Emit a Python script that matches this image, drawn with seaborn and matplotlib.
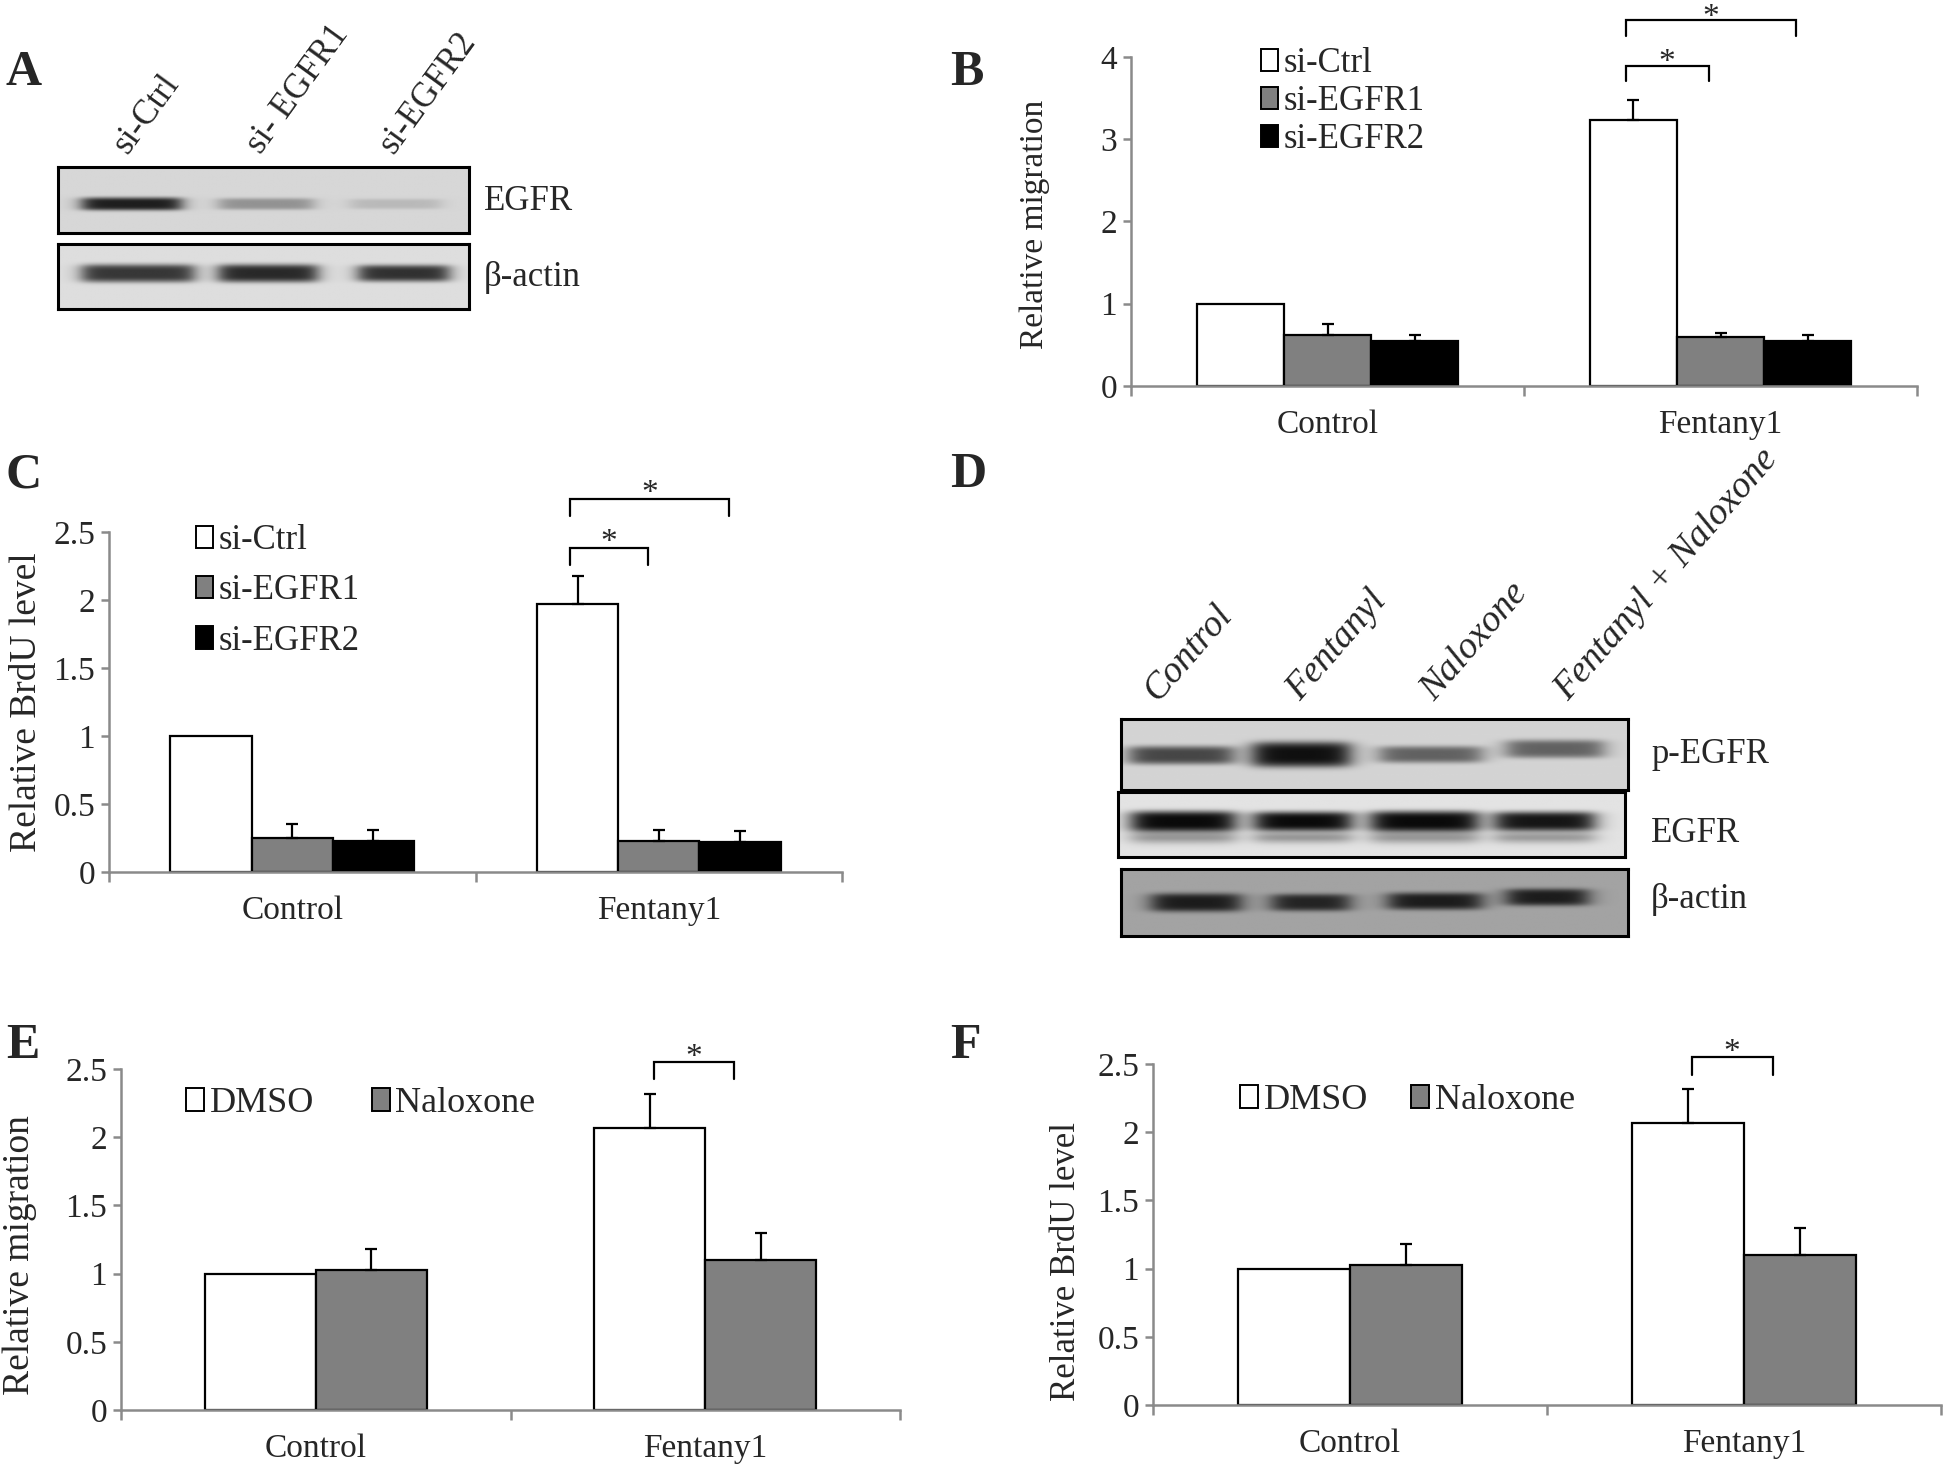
import numpy as np
import pandas as pd
import matplotlib
matplotlib.use("Agg")
import matplotlib.pyplot as plt
import seaborn as sns
from matplotlib.patches import Patch
from matplotlib.container import BarContainer

W, H = 1944, 1471
GRAY = "#8a8a8a"

# bar chart data
groups = ["Control", "Fentany1"]
sirna = ["si-Ctrl", "si-EGFR1", "si-EGFR2"]
sirna_colors = ["white", "#808080", "black"]
migration_si = [[1.00, 0.62, 0.55], [3.23, 0.60, 0.55]]
migration_si_err = [[0.00, 0.13, 0.07], [0.25, 0.05, 0.07]]
brdu_si = [[1.00, 0.25, 0.23], [1.97, 0.23, 0.22]]
brdu_si_err = [[0.00, 0.10, 0.08], [0.21, 0.08, 0.08]]

drugs = ["DMSO", "Naloxone"]
drug_colors = ["white", "#808080"]
migration_nal = [[1.00, 1.03], [2.07, 1.10]]
migration_nal_err = [[0.00, 0.15], [0.25, 0.20]]
brdu_nal = [[1.00, 1.03], [2.07, 1.10]]
brdu_nal_err = [[0.00, 0.15], [0.25, 0.20]]

# western blot band strength, 0 = none, 1 = saturated
lanes_a = ["si-Ctrl", "si- EGFR1", "si-EGFR2"]
egfr_a = [0.95, 0.35, 0.15]
actin_a = [0.85, 0.92, 0.88]
lanes_d = ["Control", "Fentanyl", "Naloxone", "Fentanyl + Naloxone"]
pegfr_d = [0.72, 1.00, 0.58, 0.58]
egfr_d = [1.00, 1.00, 1.00, 0.95]
actin_d = [0.95, 0.90, 0.95, 0.95]

sns.set_theme(style="ticks")
plt.rcParams["font.family"] = ["Liberation Serif", "DejaVu Serif"]

fig = plt.figure(figsize=(W / 100, H / 100), dpi=100)


def add_axes(x0, y0, x1, y1):
    return fig.add_axes([x0 / W, 1 - y1 / H, (x1 - x0) / W, (y1 - y0) / H])


def bar_panel(box, means, errs, series, colors, ymax, yticks, width, ylabel, ylab_size, ylab_pos):
    ax = add_axes(*box)
    rows = []
    for i, g in enumerate(groups):
        for j, s in enumerate(series):
            rows.append({"group": g, "series": s, "value": means[i][j]})
    df = pd.DataFrame(rows)
    sns.barplot(data=df, x="group", y="value", hue="series", order=groups,
                hue_order=series, palette=colors, saturation=1, width=width,
                edgecolor="black", linewidth=1.6, errorbar=None, legend=False, ax=ax)

    # one-sided error bars
    bar_conts = [c for c in ax.containers if isinstance(c, BarContainer)]
    centers = []
    for j, cont in enumerate(bar_conts):
        col = []
        for i, bar in enumerate(cont.patches):
            x = bar.get_x() + bar.get_width() / 2
            col.append(x)
            e = errs[i][j]
            if e > 0:
                ax.errorbar(x, bar.get_height(), yerr=[[0], [e]], fmt="none",
                            ecolor="black", elinewidth=1.6, capsize=4.5,
                            capthick=1.6, clip_on=False)
        centers.append(col)

    ax.set_xlim(-0.5, 1.5)
    ax.set_ylim(0, ymax)
    ax.set_yticks(yticks)
    ax.set_yticklabels([f"{t:g}" for t in yticks])
    ax.set_xticks([-0.5, 0.5, 1.5], minor=True)
    ax.tick_params(axis="x", which="major", length=0, pad=17, labelsize=24)
    ax.tick_params(axis="x", which="minor", length=7, width=1.8, color=GRAY, direction="out")
    ax.tick_params(axis="y", length=6, width=1.8, color=GRAY, pad=4, labelsize=24, direction="out")
    for side in ["top", "right"]:
        ax.spines[side].set_visible(False)
    for side in ["left", "bottom"]:
        ax.spines[side].set_color(GRAY)
        ax.spines[side].set_linewidth(1.8)
    ax.set_xlabel("")
    ax.set_ylabel(ylabel, fontsize=ylab_size)
    ax.yaxis.set_label_coords(*ylab_pos)
    return ax, centers


def bracket(ax, x0, x1, y, leg0, leg1, star_y):
    ax.plot([x0, x0, x1, x1], [leg0, y, y, leg1], color="black", lw=1.6,
            clip_on=False, solid_joinstyle="miter")
    ax.text((x0 + x1) / 2, star_y, "*", ha="center", va="center", fontsize=24)


def legend(ax, series, colors, x, y, size, ncol=1, spacing=0.15, colspace=1.0):
    handles = [Patch(facecolor=c, edgecolor="black", linewidth=1.4) for c in colors]
    ax.legend(handles, series, loc="upper left", bbox_to_anchor=(x / W, 1 - y / H),
              bbox_transform=fig.transFigure, frameon=False, fontsize=size,
              handlelength=0.5, handleheight=0.6, handletextpad=0.15,
              labelspacing=spacing, borderpad=0, borderaxespad=0, ncol=ncol,
              columnspacing=colspace)


def blot(box, strengths, spans, yc, hh, bg, dark, lower=None):
    ax = add_axes(*box)
    ny, nx = 80, 500
    yy, xx = np.mgrid[0:1:ny * 1j, 0:1:nx * 1j]
    img = np.full((ny, nx), bg)
    for k, (s, (a, b)) in enumerate(zip(strengths, spans)):
        px = 1 / (1 + np.exp(-(xx - a) / 0.012)) / (1 + np.exp((xx - b) / 0.012))
        py = np.exp(-((yy - yc[k]) / hh[k]) ** 4)
        img -= s * (bg - dark) * px * py
        if lower is not None:
            py2 = np.exp(-((yy - yc[k] - lower[0]) / (hh[k] * 0.6)) ** 2)
            img -= lower[1] * s * (bg - dark) * px * py2
    img = np.clip(img, 0, 1)
    ax.imshow(img, cmap="gray", vmin=0, vmax=1, aspect="auto", interpolation="bilinear")
    ax.set_xticks([])
    ax.set_yticks([])
    for sp in ax.spines.values():
        sp.set_linewidth(2.2)
        sp.set_color("black")
    return ax


# ---- Panel A: blots
blot((58, 167, 469, 233), egfr_a, [(0.058, 0.299), (0.39, 0.62), (0.71, 0.93)],
     [0.56, 0.56, 0.56], [0.10, 0.09, 0.08], 0.84, 0.08)
blot((58, 244, 469, 309), actin_a, [(0.058, 0.33), (0.39, 0.63), (0.73, 0.95)],
     [0.45, 0.45, 0.45], [0.14, 0.14, 0.13], 0.87, 0.10)
for lab, x in zip(lanes_a, [134, 267, 400]):
    fig.text(x / W, 1 - 160 / H, lab, rotation=54, rotation_mode="anchor",
             ha="left", va="bottom", fontsize=25)
fig.text(484 / W, 1 - 201 / H, "EGFR", ha="left", va="center", fontsize=25)
fig.text(484 / W, 1 - 278 / H, "β-actin", ha="left", va="center", fontsize=25)

# ---- Panel D: blots
blot((1121, 719, 1628, 790), pegfr_d,
     [(0.016, 0.22), (0.26, 0.45), (0.51, 0.71), (0.76, 0.95)],
     [0.51, 0.50, 0.50, 0.42], [0.13, 0.18, 0.12, 0.13], 0.83, 0.06)
blot((1118, 792, 1625, 857), egfr_d,
     [(0.026, 0.23), (0.27, 0.46), (0.50, 0.71), (0.745, 0.94)],
     [0.45, 0.45, 0.45, 0.45], [0.16, 0.15, 0.16, 0.15], 0.89, 0.04, lower=(0.25, 0.35))
blot((1121, 869, 1628, 936), actin_d,
     [(0.06, 0.235), (0.297, 0.45), (0.527, 0.71), (0.76, 0.92)],
     [0.50, 0.50, 0.48, 0.42], [0.14, 0.13, 0.13, 0.13], 0.64, 0.08)
for lab, x in zip(lanes_d, [1164, 1306, 1440, 1574]):
    fig.text(x / W, 1 - 707 / H, lab, rotation=49, rotation_mode="anchor",
             ha="left", va="bottom", fontsize=27, style="italic")
fig.text(1651 / W, 1 - 754 / H, "p-EGFR", ha="left", va="center", fontsize=25)
fig.text(1651 / W, 1 - 833 / H, "EGFR", ha="left", va="center", fontsize=25)
fig.text(1651 / W, 1 - 900 / H, "β-actin", ha="left", va="center", fontsize=25)

# ---- Panel B
axB, cB = bar_panel((1131, 57, 1917, 386), migration_si, migration_si_err, sirna,
                    sirna_colors, 4, [0, 1, 2, 3, 4], 0.665, "Relative migration",
                    24, (-0.103, 0.49))
bracket(axB, cB[0][1] - 0.02, cB[1][1] - 0.03, 3.89, 3.71, 3.71, 3.93)
bracket(axB, cB[0][1] - 0.02, cB[2][1] - 0.03, 4.45, 4.25, 4.25, 4.48)
legend(axB, sirna, sirna_colors, 1261, 47, 25, spacing=0.15)

# ---- Panel C
axC, cC = bar_panel((109, 532, 842, 872), brdu_si, brdu_si_err, sirna,
                    sirna_colors, 2.5, [0, 0.5, 1, 1.5, 2, 2.5], 0.665,
                    "Relative BrdU level", 27, (-0.089, 0.5))
bracket(axC, cC[0][1] - 0.02, cC[1][1] - 0.03, 2.38, 2.26, 2.26, 2.42)
bracket(axC, cC[0][1] - 0.02, cC[2][1] - 0.03, 2.74, 2.62, 2.62, 2.78)
legend(axC, sirna, sirna_colors, 196, 524, 25, spacing=0.5)

# ---- Panel E
axE, cE = bar_panel((121, 1069, 900, 1410), migration_nal, migration_nal_err, drugs,
                    drug_colors, 2.5, [0, 0.5, 1, 1.5, 2, 2.5], 0.571,
                    "Relative migration", 27, (-0.108, 0.455))
bracket(axE, cE[0][1] + 0.01, cE[1][1] - 0.07, 2.55, 2.43, 2.43, 2.58)
legend(axE, drugs, drug_colors, 186, 1087, 26, ncol=2, colspace=1.6)

# ---- Panel F
axF, cF = bar_panel((1153, 1064, 1941, 1405), brdu_nal, brdu_nal_err, drugs,
                    drug_colors, 2.5, [0, 0.5, 1, 1.5, 2, 2.5], 0.571,
                    "Relative BrdU level", 25, (-0.089, 0.42))
bracket(axF, cF[0][1] + 0.01, cF[1][1] - 0.07, 2.55, 2.42, 2.42, 2.58)
legend(axF, drugs, drug_colors, 1240, 1084, 26, ncol=2, colspace=1.2)

# ---- panel letters
for letter, x, y in [("A", 6, 50), ("B", 950, 50), ("C", 6, 452),
                     ("D", 950, 452), ("E", 6, 1023), ("F", 950, 1023)]:
    fig.text(x / W, 1 - y / H, letter, ha="left", va="top", fontsize=36,
             fontweight="bold")

fig.savefig("out.png", dpi=100, facecolor="white")
